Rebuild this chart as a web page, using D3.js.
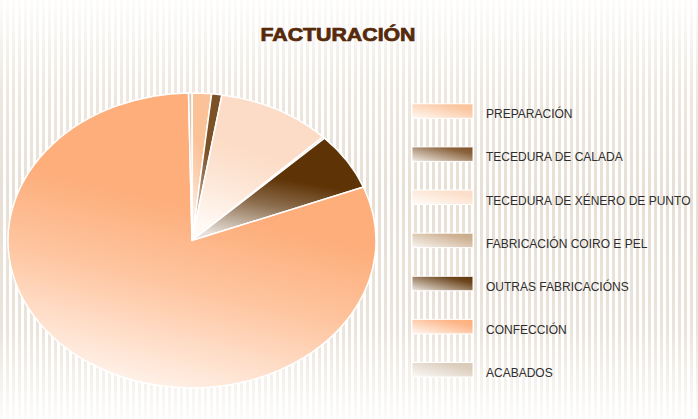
<!DOCTYPE html>
<html>
<head>
<meta charset="utf-8">
<script src="https://cdn.jsdelivr.net/npm/d3@7/dist/d3.min.js"></script>
<style>
	body { margin: 0; background: #fff; }
	svg { display: block; }
	.legend text { font-family: "Liberation Sans", Arial, sans-serif; font-size: 12px; fill: #2e2e2e; }
	.title { font-family: "Liberation Sans", Arial, sans-serif; font-weight: bold; font-size: 18px; fill: #55290a; stroke: #55290a; stroke-width: 0.7px; }
</style>
</head>
<body>
<div id="chart"></div>
<script>
// data (share of turnover, %)
var categories = [
	'PREPARACIÓN',
	'TECEDURA DE CALADA',
	'TECEDURA DE XÉNERO DE PUNTO',
	'FABRICACIÓN COIRO E PEL',
	'OUTRAS FABRICACIÓNS',
	'CONFECCIÓN',
	'ACABADOS'
];
var values = [1.7, 0.9, 10.0, 0.2, 6.3, 80.6, 0.3];
var colors = ['#fbc197', '#7d5126', '#fcdcc6', '#c8a987', '#5e3306', '#fdae7b', '#d8c9b6'];

var width = 698,
	height = 419,
	pie = { cx: 192, cy: 240.5, rx: 184, ry: 147.5 },
	legend = { x: 412, swatchW: 61, swatchH: 14.5, textX: 486, top: 118.3, bottom: 377 };

var svg = d3.select('#chart').append('svg')
	.attr('width', width)
	.attr('height', height);

var defs = svg.append('defs');

// striped background
var pattern = defs.append('pattern')
	.attr('id', 'stripes')
	.attr('patternUnits', 'userSpaceOnUse')
	.attr('width', 6)
	.attr('height', 10);
pattern.append('rect')
	.attr('width', 3)
	.attr('height', 10)
	.attr('fill', '#e8e0d5');

var fade = defs.append('linearGradient')
	.attr('id', 'fade')
	.attr('x1', 0).attr('y1', 0)
	.attr('x2', 0).attr('y2', 1);
fade.selectAll('stop')
	.data([
		{ offset: '0%', op: 0.92 },
		{ offset: '22%', op: 0.25 },
		{ offset: '45%', op: 0 },
		{ offset: '78%', op: 0.1 },
		{ offset: '100%', op: 0.9 }
	])
	.enter().append('stop')
	.attr('offset', function(d) { return d.offset; })
	.attr('stop-color', '#fff')
	.attr('stop-opacity', function(d) { return d.op; });

svg.append('rect').attr('width', width).attr('height', height).attr('fill', 'url(#stripes)');
svg.append('rect').attr('width', width).attr('height', height).attr('fill', 'url(#fade)');

// gradients for slices and swatches
function mix(c, k) { return d3.interpolateRgb('#ffffff', c)(k); }

colors.forEach(function(c, i) {
	var g = defs.append('linearGradient')
		.attr('id', 'slice-' + i)
		.attr('x1', 0.35).attr('y1', 1)
		.attr('x2', 0.65).attr('y2', 0);
	g.selectAll('stop')
		.data([{ o: 0, k: 0.15 }, { o: 0.35, k: 0.72 }, { o: 0.6, k: 1 }])
		.enter().append('stop')
		.attr('offset', function(d) { return d.o; })
		.attr('stop-color', function(d) { return mix(c, d.k); });

	var s = defs.append('linearGradient')
		.attr('id', 'swatch-' + i)
		.attr('x1', 0).attr('y1', 1)
		.attr('x2', 1).attr('y2', 0);
	s.selectAll('stop')
		.data([{ o: 0, k: 0.1 }, { o: 0.75, k: 0.9 }, { o: 1, k: 1 }])
		.enter().append('stop')
		.attr('offset', function(d) { return d.o; })
		.attr('stop-color', function(d) { return mix(c, d.k); });
});

// title
svg.append('text')
	.attr('class', 'title')
	.attr('x', 338)
	.attr('y', 41)
	.attr('text-anchor', 'middle')
	.attr('textLength', 155)
	.attr('lengthAdjust', 'spacingAndGlyphs')
	.text('FACTURACIÓN');

// pie, squashed into an ellipse
var arcs = d3.pie().sort(null).value(function(d) { return d; })(values);
var arc = d3.arc().innerRadius(0).outerRadius(pie.rx);

svg.append('g')
	.attr('transform', 'translate(' + pie.cx + ',' + pie.cy + ') scale(1,' + (pie.ry / pie.rx) + ')')
	.selectAll('path')
	.data(arcs)
	.enter().append('path')
	.attr('d', arc)
	.attr('fill', function(d, i) { return 'url(#slice-' + i + ')'; })
	.attr('stroke', '#fff')
	.attr('stroke-width', 1.5)
	.attr('stroke-linejoin', 'round')
	.attr('vector-effect', 'non-scaling-stroke');

// legend
var y = d3.scalePoint()
	.domain(categories)
	.range([legend.top, legend.bottom]);

var item = svg.append('g')
	.attr('class', 'legend')
	.selectAll('g')
	.data(categories)
	.enter().append('g')
	.attr('transform', function(d) { return 'translate(0,' + y(d) + ')'; });

item.append('rect')
	.attr('x', legend.x)
	.attr('y', -legend.swatchH)
	.attr('width', legend.swatchW)
	.attr('height', legend.swatchH)
	.attr('fill', function(d, i) { return 'url(#swatch-' + i + ')'; })
	.attr('stroke', '#fff')
	.attr('stroke-width', 1);

item.append('text')
	.attr('x', legend.textX)
	.attr('y', 0)
	.text(function(d) { return d; });
</script>
</body>
</html>
